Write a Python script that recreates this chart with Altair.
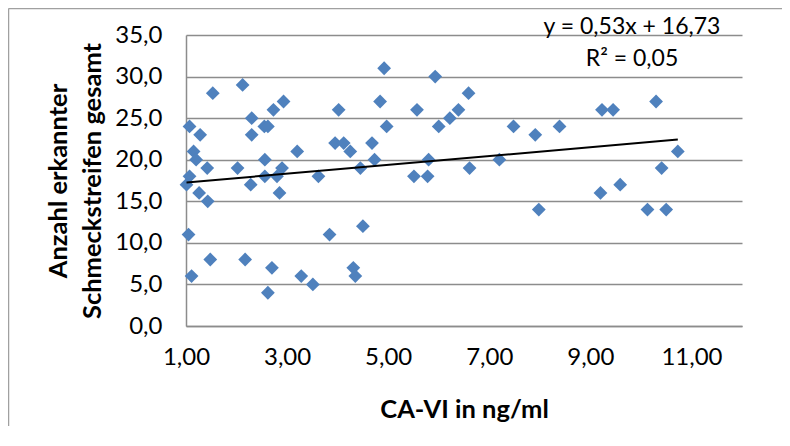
import altair as alt
import pandas as pd

# CA-VI (ng/ml) and number of recognised taste strips
ca_vi = [1.07, 1.28, 1.53, 2.12, 1.15, 1.20, 1.42, 1.07, 1.01, 1.26,
         1.43, 2.02, 2.28, 2.30, 2.30, 2.55, 2.62, 2.73, 2.93, 2.56,
         2.56, 2.80, 2.90, 2.85, 3.20, 3.62, 1.05, 1.11, 1.48, 2.17,
         2.70, 2.62, 3.28, 3.51, 3.84, 5.93, 4.92, 6.59, 4.02, 4.84,
         5.57, 6.39, 6.22, 4.97, 6.00, 7.48, 3.95, 4.12, 4.25, 4.68,
         4.73, 4.45, 5.80, 5.51, 5.78, 6.61, 7.20, 4.50, 4.31, 4.35,
         7.91, 8.39, 9.23, 9.45, 10.30, 10.73, 10.41, 9.59, 9.20, 7.98,
         10.13, 10.50]
streifen = [24, 23, 28, 29, 21, 20, 19, 18, 17, 16,
            15, 19, 17, 25, 23, 24, 24, 26, 27, 20,
            18, 18, 19, 16, 21, 18, 11, 6, 8, 8,
            7, 4, 6, 5, 11, 30, 31, 28, 26, 27,
            26, 26, 25, 24, 24, 24, 22, 22, 21, 22,
            20, 19, 20, 18, 18, 19, 20, 12, 7, 6,
            23, 24, 26, 26, 27, 21, 19, 17, 16, 14,
            14, 14]

slope = 0.53
intercept = 16.73
r_squared = 0.05

x_ticks = [1, 3, 5, 7, 9, 11]
y_ticks = [0, 5, 10, 15, 20, 25, 30, 35]

FONT = "Lato"
GRID = "#8c8c8c"

df = pd.DataFrame({"x": ca_vi, "y": streifen})
trend_df = pd.DataFrame({"x": [min(ca_vi), max(ca_vi)]})
eq_text = f"y = {slope:.2f}x + {intercept:.2f}".replace(".", ",")
r2_text = f"R² = {r_squared:.2f}".replace(".", ",")
one_df = pd.DataFrame({"a": [0]})

xscale = alt.Scale(domain=[1, 12], nice=False, zero=False)
yscale = alt.Scale(domain=[0, 35], nice=False)

points = alt.Chart(df).mark_point(
    shape="diamond", filled=True, size=190, color="#4F81BD", opacity=1
).encode(
    x=alt.X("x:Q", scale=xscale, axis=alt.Axis(
        values=x_ticks,
        labelExpr="replace(format(datum.value, '.2f'), '.', ',')",
        labelFlush=False,
        grid=False, ticks=False,
        domainColor=GRID, domainWidth=1.5,
        labelFont=FONT, labelFontSize=24, labelColor="#000000",
        labelPadding=19,
        title="CA-VI in ng/ml",
        titleFont=FONT, titleFontSize=25.5, titleFontWeight="bold",
        titleColor="#000000", titleY=83, titleBaseline="middle",
    )),
    y=alt.Y("y:Q", scale=yscale, axis=alt.Axis(
        values=y_ticks,
        labelExpr="replace(format(datum.value, '.1f'), '.', ',')",
        grid=True, gridColor=GRID, gridWidth=1.5,
        ticks=False,
        domainColor=GRID, domainWidth=1.5,
        labelFont=FONT, labelFontSize=24, labelColor="#000000",
        labelPadding=24,
        title=["Anzahl erkannter", "Schmeckstreifen gesamt"],
        titleFont=FONT, titleFontSize=25.5, titleFontWeight="bold",
        titleColor="#000000", titleLineHeight=34,
        titleX=-128, titleY=145.5, titleBaseline="middle", titleAlign="center",
        titleAngle=270,
    )),
)

trend = alt.Chart(trend_df).transform_calculate(
    y=f"{slope} * datum.x + {intercept}"
).mark_line(color="#000000", strokeWidth=2).encode(
    x=alt.X("x:Q", scale=xscale),
    y=alt.Y("y:Q", scale=yscale),
)

eq1 = alt.Chart(one_df).mark_text(
    font=FONT, fontSize=23, color="#000000", align="center", baseline="middle",
    text=eq_text,
).encode(x=alt.value(446), y=alt.value(-8))
eq2 = alt.Chart(one_df).mark_text(
    font=FONT, fontSize=23, color="#000000", align="center", baseline="middle",
    text=r2_text,
).encode(x=alt.value(446), y=alt.value(24))

frame_v = alt.Chart(one_df).mark_rule(color="#a0a0a0", strokeWidth=1.5).encode(
    x=alt.value(-177.5), y=alt.value(-26.5), y2=alt.value(420)
)
frame_h = alt.Chart(one_df).mark_rule(color="#a0a0a0", strokeWidth=1.5).encode(
    x=alt.value(-177.5), x2=alt.value(700), y=alt.value(-26.5)
)

chart = alt.layer(frame_v, frame_h, points, trend, eq1, eq2).properties(
    width=556, height=291,
    padding={"left": 178, "top": 27, "right": 40, "bottom": 100},
    autosize=alt.AutoSizeParams(type="none"),
).configure_view(stroke=None)

chart.save("out.html", embed_options={"renderer": "svg", "actions": False})
